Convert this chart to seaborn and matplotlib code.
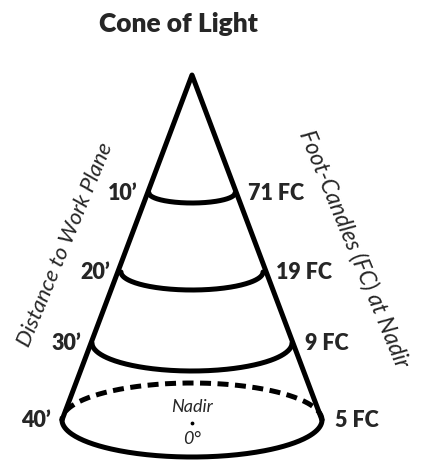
import numpy as np
import pandas as pd
import matplotlib
matplotlib.use("Agg")
import matplotlib.pyplot as plt
import seaborn as sns

# values shown on the chart
distances = ["10’", "20’", "30’", "40’"]
foot_candles = ["71 FC", "19 FC", "9 FC", "5 FC"]
title = "Cone of Light"
left_title = "Distance to Work Plane"
right_title = "Foot-Candles (FC) at Nadir"

# layout of the cone (pixel-like coordinates, y going down)
apex = (192, 75)
level_y = [193, 272, 343, 420]
half_w = [43, 71, 100, 130]
half_h = [10, 18, 28, 37]

sns.set_style("white")
plt.rcParams["font.family"] = ["Lato", "DejaVu Sans"]

fig = plt.figure(figsize=(4.21, 4.61), dpi=100)
ax = fig.add_axes([0, 0, 1, 1])
ax.set_xlim(0, 421)
ax.set_ylim(461, 0)
ax.axis("off")

lw = 3.6
cx = apex[0]

# cone sides
side = pd.DataFrame({
    "x": [cx - half_w[-1], apex[0], cx + half_w[-1]],
    "y": [level_y[-1], apex[1], level_y[-1]],
})
sns.lineplot(data=side, x="x", y="y", sort=False, color="black", lw=lw, ax=ax,
             estimator=None)

t = np.linspace(0, np.pi, 200)
for i in range(len(level_y)):
    arc = pd.DataFrame({"x": cx + half_w[i] * np.cos(t),
                        "y": level_y[i] + half_h[i] * np.sin(t)})
    sns.lineplot(data=arc, x="x", y="y", sort=False, color="black", lw=lw,
                 ax=ax, estimator=None)
    if i == len(level_y) - 1:
        # back edge of the work plane, dashed
        top = pd.DataFrame({"x": cx + half_w[i] * np.cos(t),
                            "y": level_y[i] - half_h[i] * np.sin(t)})
        sns.lineplot(data=top, x="x", y="y", sort=False, color="black", lw=lw,
                     ax=ax, estimator=None, linestyle=(0, (2.2, 1.3)))

for i in range(len(level_y)):
    ax.text(cx - half_w[i] - 11, level_y[i], distances[i], ha="right",
            va="center", fontsize=15.5, fontweight="heavy")
    ax.text(cx + half_w[i] + 13, level_y[i], foot_candles[i], ha="left",
            va="center", fontsize=15.5, fontweight="heavy")

ax.text(cx, 407, "Nadir", ha="center", va="center", fontsize=13, style="italic")
ax.scatter([cx], [423], s=3, color="black")
ax.text(cx, 439, "0°", ha="center", va="center", fontsize=13, style="italic")

ax.text(65, 245, left_title, rotation=67.5, ha="center", va="center",
        fontsize=16, style="italic", rotation_mode="anchor")
ax.text(354, 249, right_title, rotation=-67.5, ha="center", va="center",
        fontsize=16.5, style="italic", rotation_mode="anchor")

ax.text(178, 24, title, ha="center", va="center", fontsize=19, fontweight="heavy")

fig.savefig("out.png", dpi=100)
